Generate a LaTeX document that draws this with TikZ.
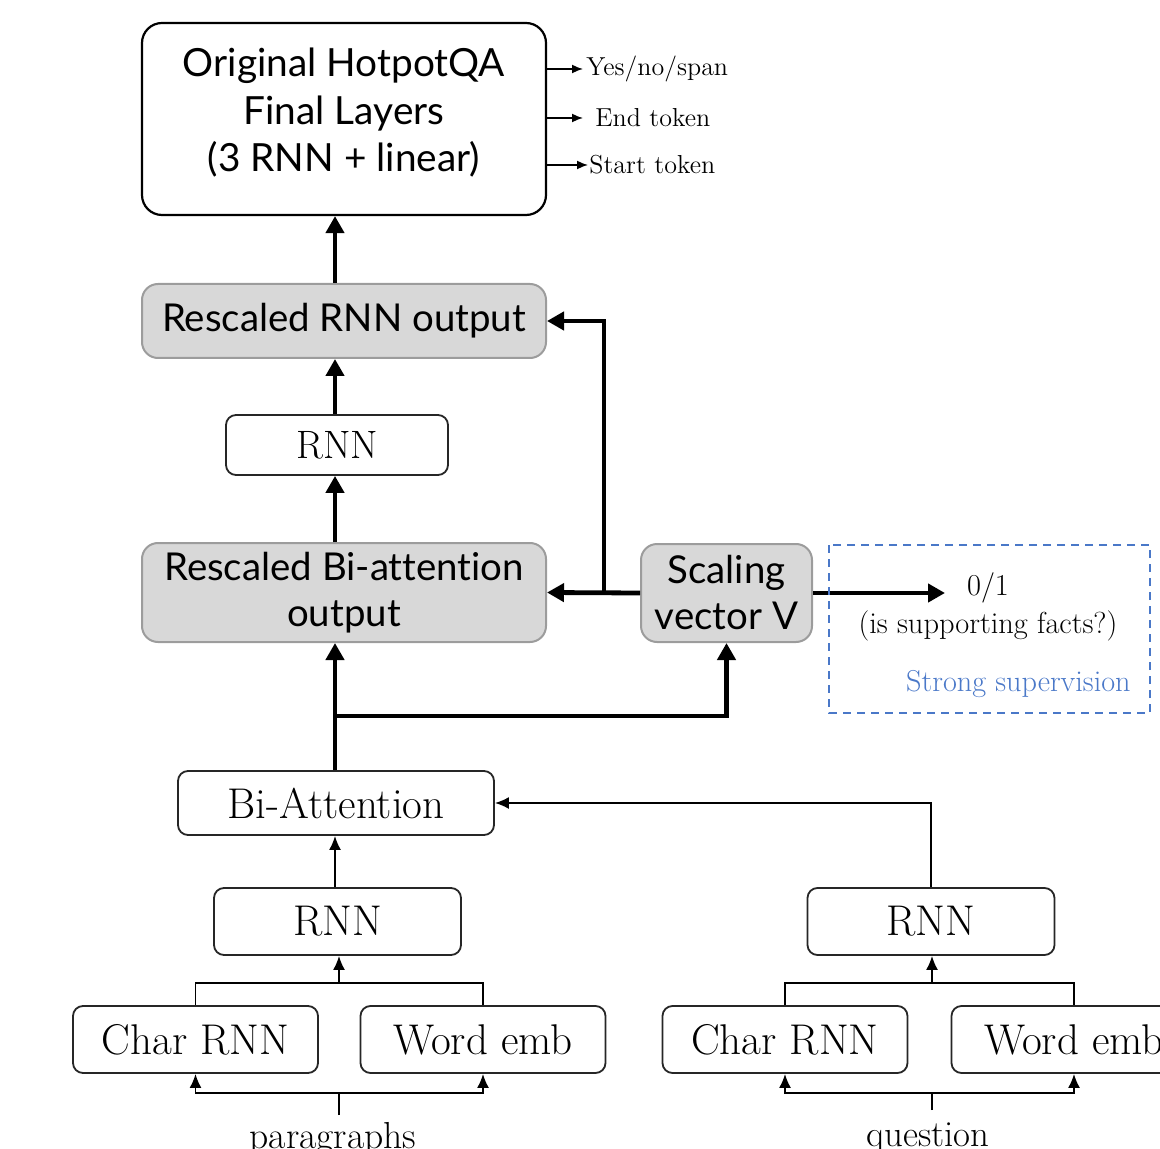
\documentclass[tikz,border=0pt]{standalone}
\usepackage{fontspec}
\newfontfamily\sansf[Ligatures={NoCommon}]{Lato}
\usetikzlibrary{arrows.meta,calc}
\definecolor{boxgray}{HTML}{D8D8D8}
\definecolor{bordgray}{HTML}{9C9C9C}
\definecolor{supblue}{HTML}{4A78C8}
\begin{document}
\begin{tikzpicture}[x=0.5pt,y=-0.5pt,
  sbox/.style={draw=black, line width=1.1pt, rounded corners=10pt, fill=white, inner sep=0pt},
  stext/.style={align=center, inner sep=0pt, font=\sansf\fontsize{19.4}{23.75}\selectfont},
  gbox/.style={draw=bordgray, fill=boxgray, line width=1pt, rounded corners=8pt, align=center, inner sep=0pt,
    font=\sansf\fontsize{19.2}{23}\selectfont},
  cbox/.style={draw=black!85, line width=0.9pt, rounded corners=5pt, inner sep=0pt, fill=white,
    font=\fontsize{21.5}{25}\selectfont},
  bigarr/.style={line width=2.4pt, -{Triangle[length=8.5pt,width=9pt]}},
  thinarr/.style={line width=0.9pt, -{Latex[length=7pt,width=6pt]}},
  thinline/.style={line width=0.9pt},
  outarr/.style={line width=0.8pt, -{Latex[length=5.5pt,width=4.5pt]}},
  outlbl/.style={anchor=west, inner sep=0pt, font=\fontsize{13}{15}\selectfont},
]
\useasboundingbox (0,0) rectangle (1160,1149);
\clip (0,0) rectangle (1160,1149);

% top block
\node[sbox, minimum width=202pt, minimum height=96pt] (top) at (344,119) {};
\node[stext] (toptxt) at (344,113) {Original HotpotQA\\Final Layers\\(3 RNN + linear)};
\node[outlbl] (yes) at (586,69) {Yes/no/span};
\node[outlbl] (endt) at (595,118) {End token};
\node[outlbl] (start) at (589,165) {Start token};
\draw[outarr] (top.east |- yes.west) -- ($(yes.west)+(-3,0)$);
\draw[outarr] (top.east |- endt.west) -- ($(endt.west)+(-12,0)$);
\draw[outarr] (top.east |- start.west) -- ($(start.west)+(-1,0)$);

% middle
\node[gbox, minimum width=202pt, minimum height=37pt] (rnnout) at (344,321) {Rescaled RNN output};
\node[cbox, minimum width=111pt, minimum height=30pt, font=\fontsize{19.8}{23}\selectfont] (rnnmid) at (337,445) {RNN};
\node[gbox, minimum width=202pt, minimum height=49.5pt] (biout) at (344,592.5) {Rescaled Bi-attention\\output};
\node[gbox, minimum width=85.5pt, minimum height=49pt] (scal) at (726.5,593) {Scaling\\vector V};

\coordinate (spine) at (335,0);
\draw[bigarr] (rnnout.north -| spine) -- (top.south -| spine);
\draw[bigarr] (rnnmid.north -| spine) -- (rnnout.south -| spine);
\draw[bigarr] (biout.north -| spine) -- (rnnmid.south -| spine);

\coordinate (jS) at (604,593);
\draw[bigarr] (scal.west) -- (biout.east);
\draw[bigarr] (jS) |- (rnnout.east);

% supervision
\coordinate (sup) at (945,593);
\draw[bigarr] (scal.east) -- (sup);
\node[inner sep=0pt, font=\fontsize{15.2}{17}\selectfont] (zo) at (988,588) {0/1};
\node[inner sep=0pt, font=\fontsize{15.2}{17}\selectfont] (isf) at (988,626) {(is supporting facts?)};
\node[inner sep=0pt, anchor=east, text=supblue, font=\fontsize{15.1}{17}\selectfont] (strong) at (1131,684) {Strong supervision};
\draw[supblue, line width=0.7pt, dash pattern=on 4pt off 3pt] (829,545) rectangle (1150,713);

% bi-attention
\node[cbox, minimum width=158pt, minimum height=32pt] (biatt) at (336,803) {Bi-Attention};
\coordinate (jB) at (335,716);
\draw[bigarr] (biatt.north -| spine) -- (biout.south -| spine);
\draw[bigarr] (jB) -| (scal.south);

% left encoder
\node[cbox, minimum width=123.5pt, minimum height=33.5pt] (rnnL) at (337.5,921.5) {RNN};
\node[cbox, minimum width=122.5pt, minimum height=33.5pt] (charL) at (195.5,1039.5) {Char RNN};
\node[cbox, minimum width=122.5pt, minimum height=33.5pt] (wordL) at (483,1039.5) {Word emb};
\draw[thinarr] (rnnL.north -| spine) -- (biatt.south -| spine);
\coordinate (bL) at (339,983);
\draw[thinline] (charL.north) |- (bL) -| (wordL.north);
\draw[thinarr] (bL) -- (bL |- rnnL.south);
\coordinate (jL) at (339,1093);
\coordinate (pinL) at (339,1115);
\draw[thinline] (pinL) -- (jL);
\draw[thinarr] (jL) -| (charL.south);
\draw[thinarr] (jL) -| (wordL.south);
\node[anchor=base, inner sep=0pt, font=\fontsize{18.8}{22}\selectfont] (para) at (333,1148) {paragraphs};

% right encoder
\node[cbox, minimum width=123.5pt, minimum height=33.5pt] (rnnR) at (931,921.5) {RNN};
\node[cbox, minimum width=122.5pt, minimum height=33.5pt] (charR) at (785,1039.5) {Char RNN};
\node[cbox, minimum width=122.5pt, minimum height=33.5pt] (wordR) at (1074,1039.5) {Word emb};
\draw[thinarr] (rnnR.north) |- (biatt.east);
\coordinate (bR) at (932,983);
\draw[thinline] (charR.north) |- (bR) -| (wordR.north);
\draw[thinarr] (bR) -- (bR |- rnnR.south);
\coordinate (jR) at (932,1093);
\coordinate (pinR) at (932,1110);
\draw[thinline] (pinR) -- (jR);
\draw[thinarr] (jR) -| (charR.south);
\draw[thinarr] (jR) -| (wordR.south);
\node[anchor=base, inner sep=0pt, font=\fontsize{18.4}{22}\selectfont] (quest) at (928,1146) {question};
\end{tikzpicture}
\end{document}
